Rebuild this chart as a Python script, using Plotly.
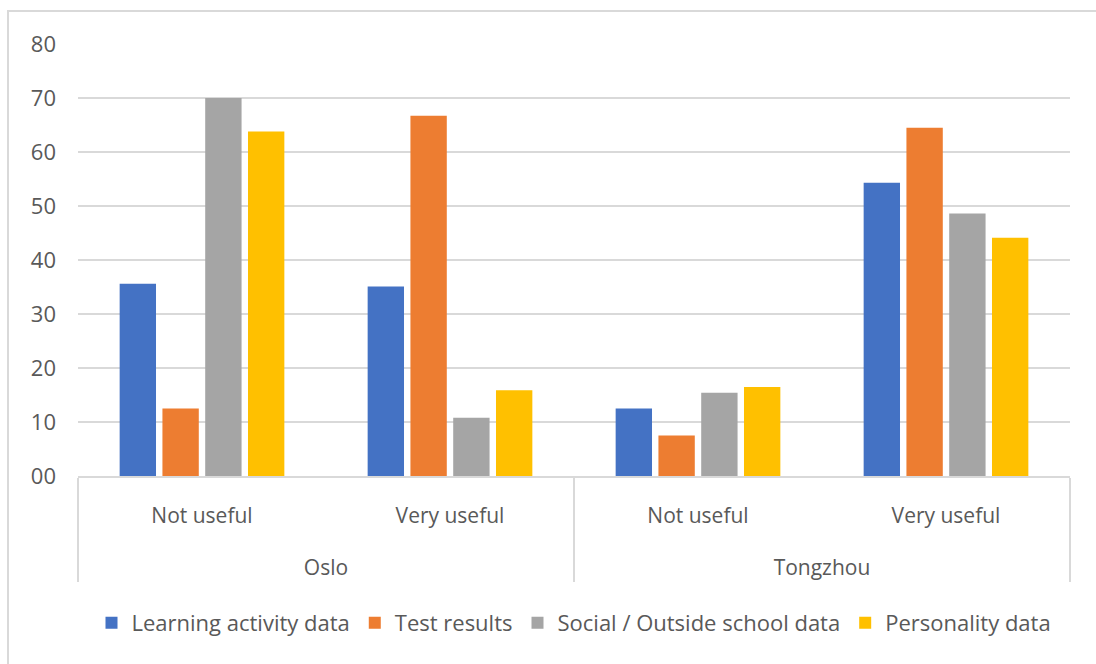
import plotly.graph_objects as go

cities = ["Oslo", "Oslo", "Tongzhou", "Tongzhou"]
ratings = ["Not useful", "Very useful", "Not useful", "Very useful"]

series_names = ["Learning activity data", "Test results", "Social / Outside school data", "Personality data"]
learning = [35.6, 35.1, 12.5, 54.3]
test_results = [12.5, 66.7, 7.5, 64.5]
social = [70.0, 10.8, 15.4, 48.6]
personality = [63.8, 15.9, 16.5, 44.1]
colors = ["#4472C4", "#ED7D31", "#A5A5A5", "#FFC000"]

tick_vals = [0, 10, 20, 30, 40, 50, 60, 70, 80]
tick_text = ["00", "10", "20", "30", "40", "50", "60", "70", "80"]

FONT = "Open Sans"
TXT = "#595959"

# add blank space under the inner labels so the outer row sits lower (Excel-style spacing)
rating_labels = [r + "<br><span style='font-size:51px'> </span>" for r in ratings]

fig = go.Figure()
for name, vals, col in zip(series_names, [learning, test_results, social, personality], colors):
    fig.add_trace(go.Bar(x=[cities, rating_labels], y=vals, name=name,
                         marker=dict(color=col, line=dict(width=0))))

fig.update_layout(
    width=1096, height=664,
    margin=dict(l=78, r=26, t=44, b=188),
    paper_bgcolor="white", plot_bgcolor="white",
    barmode="group", bargap=0.31, bargroupgap=0.15,
    font=dict(family=FONT, size=21, color=TXT),
    showlegend=True,
    legend=dict(orientation="h", x=0.5, xanchor="center", y=-0.34, yanchor="middle",
                font=dict(family=FONT, size=22, color=TXT), itemwidth=30, tracegroupgap=0),
    xaxis=dict(type="multicategory", showgrid=False, showline=True, linecolor="#D9D9D9", linewidth=2,
               showdividers=True, dividercolor="#D9D9D9", dividerwidth=2,
               tickfont=dict(family=FONT, size=21, color=TXT), ticks="", ticklabelstandoff=20),
    yaxis=dict(range=[0, 80], tickvals=tick_vals, ticktext=tick_text, showgrid=True,
               gridcolor="#D9D9D9", gridwidth=2, zeroline=False, showline=False,
               tickfont=dict(family=FONT, size=22, color=TXT), ticks="", ticklabelstandoff=21),
    shapes=[dict(type="rect", xref="paper", yref="paper",
                 x0=(8 - 78) / 992, x1=(1110 - 78) / 992,
                 y0=(476 - 680) / 432, y1=(476 - 11) / 432,
                 line=dict(color="#D9D9D9", width=2), fillcolor="rgba(0,0,0,0)", layer="below")],
)

fig.write_html("out.html")
